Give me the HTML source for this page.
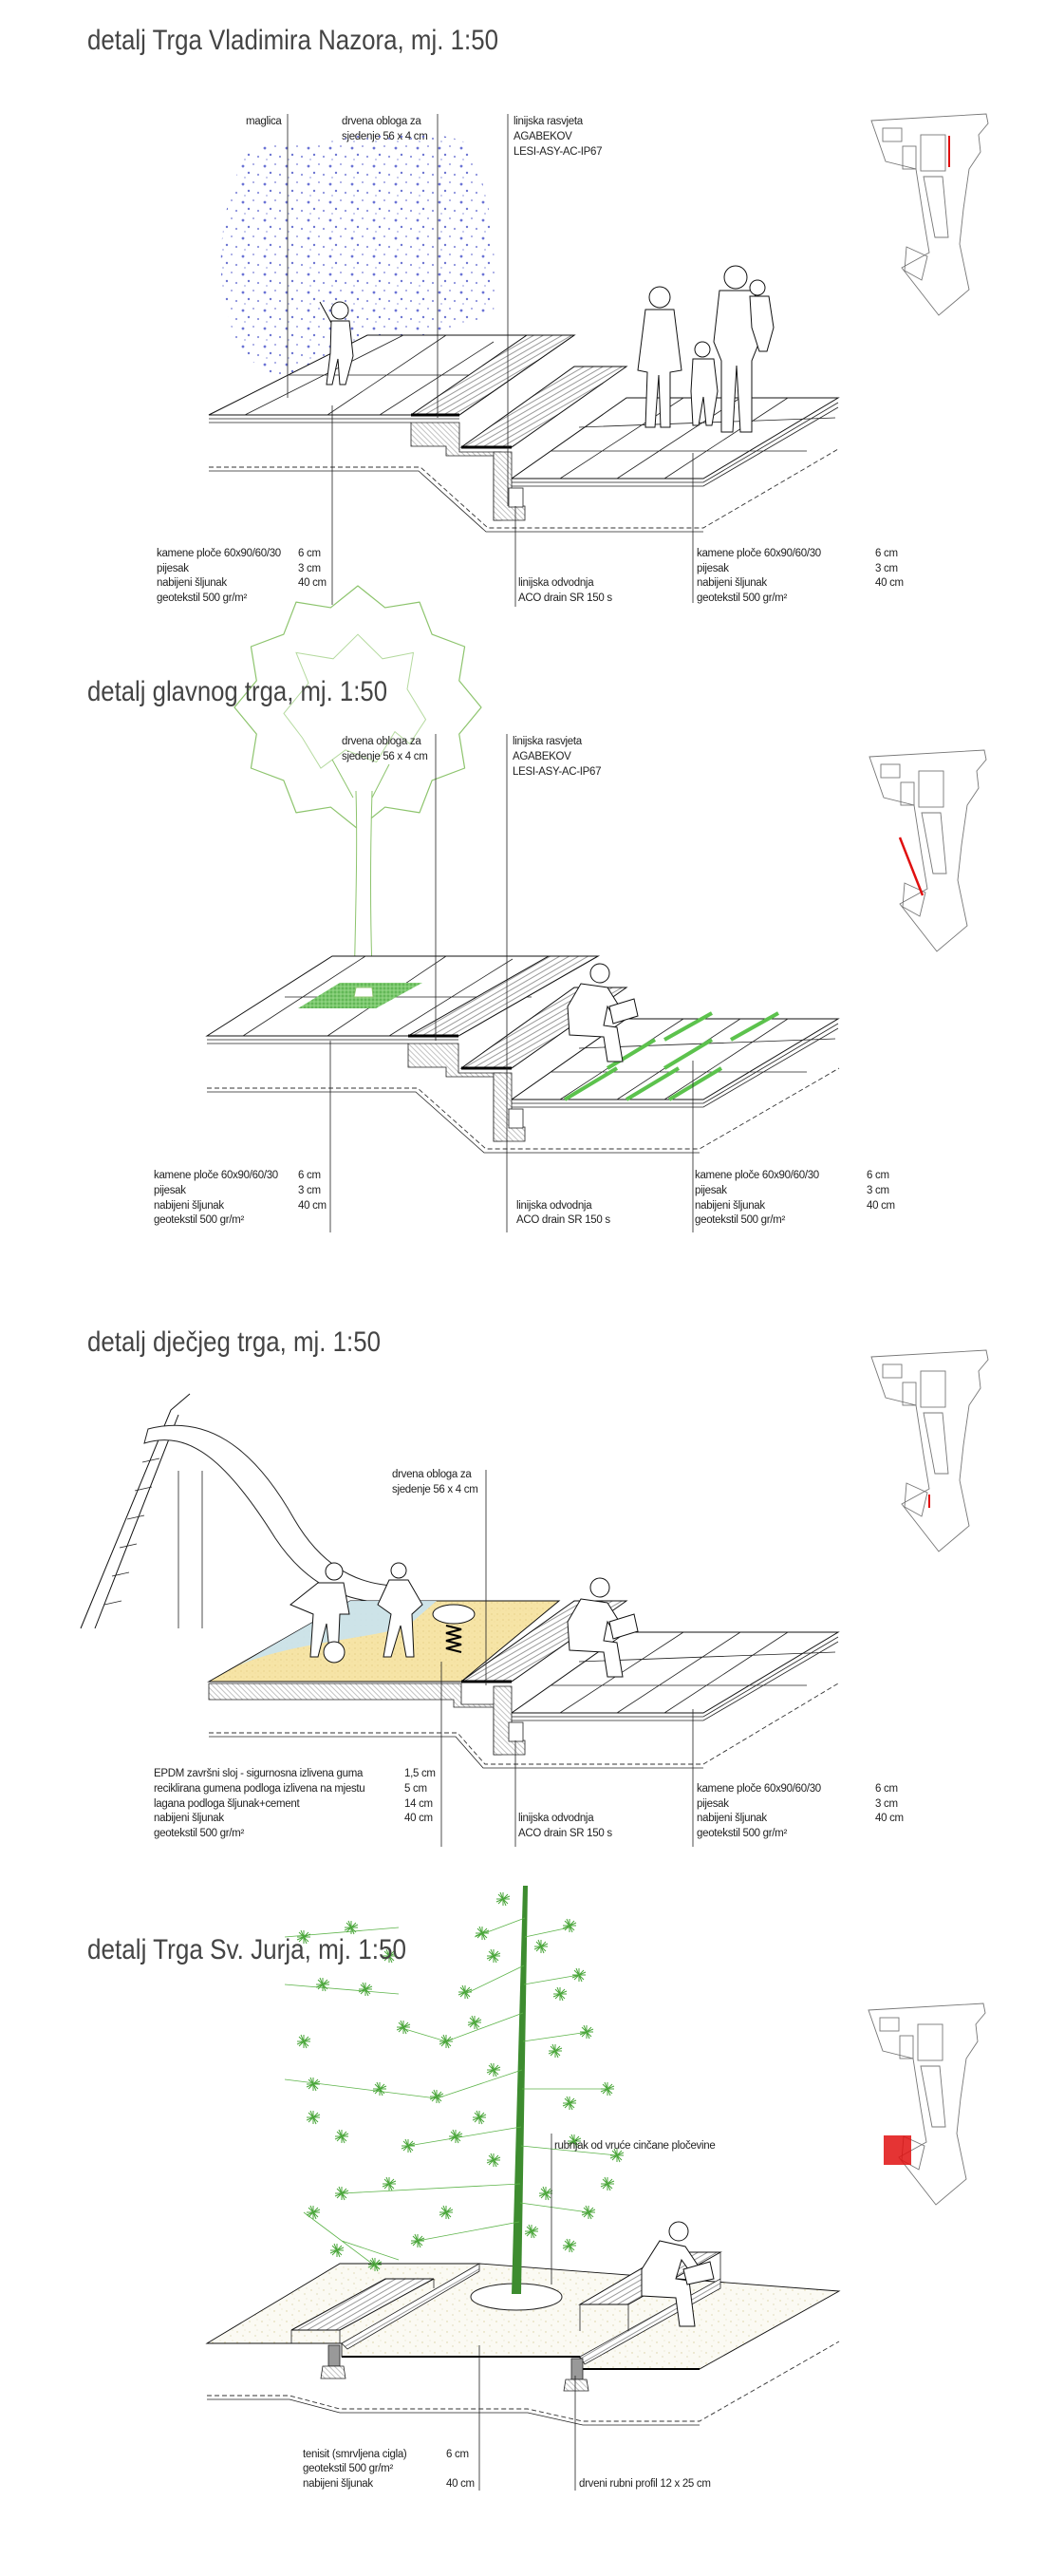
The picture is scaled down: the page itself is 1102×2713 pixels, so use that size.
<!DOCTYPE html>
<html><head><meta charset="utf-8"><style>
html,body{margin:0;padding:0;background:#fff;}
svg{display:block;}
.t{font-family:"Liberation Sans",sans-serif;font-size:30px;fill:#444;}
.l{font-family:"Liberation Sans",sans-serif;font-size:11.5px;fill:#222;letter-spacing:-0.3px;}
.ln{stroke:#222;stroke-width:0.8;fill:none;}
.k{stroke:#111;stroke-width:1;fill:#fff;}
.d{stroke:#333;stroke-width:0.9;fill:none;stroke-dasharray:5 3;}
.m{stroke:#777;stroke-width:0.9;fill:none;}
.g{stroke:#3d9a2f;stroke-width:0.9;fill:none;}
</style></head><body>
<svg width="1102" height="2713" viewBox="0 0 1102 2713" xmlns="http://www.w3.org/2000/svg">
<defs>
<pattern id="wood" width="5" height="5" patternUnits="userSpaceOnUse" patternTransform="rotate(-30)"><rect width="5" height="5" fill="#fff"/><line x1="0" y1="2" x2="5" y2="2" stroke="#555" stroke-width="0.6"/></pattern>
<pattern id="conc" width="4" height="4" patternUnits="userSpaceOnUse" patternTransform="rotate(45)"><rect width="4" height="4" fill="#fff"/><line x1="0" y1="1" x2="4" y2="1" stroke="#999" stroke-width="0.6"/></pattern>
<pattern id="mist" width="23" height="19" patternUnits="userSpaceOnUse"><circle cx="3" cy="4" r="1.4" fill="#5a63d0"/><circle cx="14" cy="2" r="1" fill="#8a90dc"/><circle cx="9" cy="11" r="1.2" fill="#5d66cc"/><circle cx="19" cy="13" r="1.1" fill="#7d84d8"/><circle cx="5" cy="16" r="0.9" fill="#9aa0e0"/></pattern>
<pattern id="grav" width="13" height="11" patternUnits="userSpaceOnUse"><rect width="13" height="11" fill="#fbfaf3"/><circle cx="3" cy="3" r="0.7" fill="#d8cfa0"/><circle cx="9" cy="7" r="0.6" fill="#cfc695"/><circle cx="11" cy="1" r="0.5" fill="#ddd5b0"/></pattern>
<pattern id="sand" width="6" height="6" patternUnits="userSpaceOnUse"><rect width="6" height="6" fill="#f6e4a6"/><circle cx="2" cy="2" r="0.6" fill="#e0c77a"/><circle cx="5" cy="4" r="0.5" fill="#ecd690"/></pattern>
<pattern id="grn" width="4" height="4" patternUnits="userSpaceOnUse"><rect width="4" height="4" fill="#7cc96e"/><circle cx="1" cy="1" r="0.7" fill="#3d9a35"/><circle cx="3" cy="3" r="0.6" fill="#b5e3a9"/></pattern>
<g id="star"><path d="M-7,0 L7,0 M0,-7 L0,7 M-5,-5 L5,5 M-5,5 L5,-5 M-3,-7 L3,7 M-7,3 L7,-3" stroke="#4aa63a" stroke-width="1"/></g>
<g id="map">
<path class="m" d="M3,7 L124,0 L126,10 L116,22 L118,40 L106,58 L100,100 L96,137 L106,185 L74,212 L35,162 L64,146 L58,110 L50,58 L18,50 Z"/>
<rect class="m" x="15" y="15" width="20" height="14"/>
<rect class="m" x="55" y="22" width="26" height="38"/>
<rect class="m" x="36" y="34" width="14" height="24"/>
<path class="m" d="M58,66 L78,66 L84,130 L70,130 Z"/>
<path class="m" d="M40,140 L62,150 L56,175 L38,165 Z"/>
</g>
<g id="lower">
<polygon points="486,471 539,471 660,386 605,386" fill="url(#wood)" stroke="#111"/>
<line x1="486" y1="471" x2="539" y2="471" stroke="#000" stroke-width="3"/>
<polygon points="539,504 741,504 883,419 660,419" class="k"/>
<path class="ln" d="M590,504 L720,419 M650,504 L780,419 M700,504 L830,419 M580,475 L850,475 M610,450 L880,440"/>
<path class="ln" d="M539,508 L741,508 L883,424 M539,512 L741,512 L883,429"/>
<path d="M528,476 L539,476 L539,533 L553,533 L553,548 L520,548 L520,476 Z" fill="url(#conc)" stroke="#222" stroke-width="0.8"/>
<rect x="536" y="514" width="15" height="20" fill="#fff" stroke="#222" stroke-width="0.8"/>
</g>
</defs>

<!-- ============ SECTION 1 ============ -->
<text class="t" x="92" y="52" textLength="433" lengthAdjust="spacingAndGlyphs">detalj Trga Vladimira Nazora, mj. 1:50</text>
<text class="l" x="259" y="131">maglica</text>
<text class="l" x="360" y="131">drvena obloga za</text>
<text class="l" x="360" y="147">sjedenje  56 x 4 cm</text>
<text class="l" x="541" y="131">linijska rasvjeta</text>
<text class="l" x="541" y="147">AGABEKOV</text>
<text class="l" x="541" y="163">LESI-ASY-AC-IP67</text>
<path d="M260,160 C230,220 222,300 250,360 C270,400 320,405 350,398 L520,330 C525,260 515,190 490,150 C460,135 380,140 330,150 C300,150 275,150 260,160 Z" fill="url(#mist)" opacity="0.9"/>
<polygon points="220,437 387,353 605,353 484,437" class="k"/>
<path class="ln" d="M258,437 L425,353 M345,437 L470,353 M303,395 L545,395 M400,437 L520,360"/>
<polygon points="433,437 484,437 605,353 555,353" fill="url(#wood)" stroke="#111"/>
<line x1="433" y1="437" x2="484" y2="437" stroke="#000" stroke-width="3"/>
<path class="ln" d="M220,441 L484,441 M220,445 L433,445"/>
<path d="M433,445 L484,445 L484,476 L528,476 L528,548 L520,548 L520,480 L470,480 L470,470 L433,470 Z" fill="url(#conc)" stroke="#222" stroke-width="0.8"/>
<use href="#lower"/>
<path class="d" d="M220,492 L443,492 L514,556 L741,556 L883,473"/>
<path class="ln" d="M220,496 L441,496 L512,560 L741,560"/>
<g class="k" stroke-width="0.9">
<circle cx="358" cy="327" r="9"/><path d="M349,338 L368,338 L372,375 L364,405 L358,405 L356,378 L350,405 L344,405 L348,372 Z M349,340 L337,318"/>
<circle cx="695" cy="313" r="11"/><path d="M680,326 L710,326 L718,390 L706,392 L706,450 L696,450 L694,395 L690,450 L680,450 L682,392 L672,390 Z"/>
<circle cx="740" cy="368" r="8"/><path d="M730,378 L752,378 L756,412 L750,448 L744,448 L741,418 L736,448 L730,448 L728,412 Z"/>
<circle cx="775" cy="292" r="12"/><path d="M758,306 L795,306 L800,360 L792,380 L792,455 L780,455 L776,385 L772,455 L760,455 L760,380 L752,360 Z"/>
<circle cx="798" cy="303" r="8"/><path d="M790,312 L810,312 L815,345 L808,370 L800,370 L792,345 Z"/>
</g>
<line class="ln" x1="303" y1="120" x2="303" y2="419"/>
<line class="ln" x1="461" y1="120" x2="461" y2="440"/>
<line class="ln" x1="535" y1="120" x2="535" y2="533"/>
<line class="ln" x1="543" y1="533" x2="543" y2="639"/>
<line class="ln" x1="350" y1="427" x2="350" y2="637"/>
<line class="ln" x1="730" y1="477" x2="730" y2="635"/>
<g class="l">
<text x="165" y="586">kamene ploče 60x90/60/30</text><text x="314" y="586">6 cm</text>
<text x="165" y="602">pijesak</text><text x="314" y="602">3 cm</text>
<text x="165" y="617">nabijeni šljunak</text><text x="314" y="617">40 cm</text>
<text x="165" y="633">geotekstil 500 gr/m²</text>
<text x="546" y="617">linijska odvodnja</text><text x="546" y="633">ACO drain SR 150 s</text>
<text x="734" y="586">kamene ploče 60x90/60/30</text><text x="922" y="586">6 cm</text>
<text x="734" y="602">pijesak</text><text x="922" y="602">3 cm</text>
<text x="734" y="617">nabijeni šljunak</text><text x="922" y="617">40 cm</text>
<text x="734" y="633">geotekstil 500 gr/m²</text>
</g>
<use href="#map" x="915" y="120"/>
<line x1="1000" y1="143" x2="1000" y2="176" stroke="#e01010" stroke-width="2"/>

<!-- ============ SECTION 2 ============ -->
<g transform="translate(377,745) scale(130,128)">
<polygon points="1,0 .821,.22 .866,.5 .601,.601 .5,.866 .22,.821 0,1 -.22,.821 -.5,.866 -.601,.601 -.866,.5 -.821,.22 -1,0 -.821,-.22 -.866,-.5 -.601,-.601 -.5,-.866 -.22,-.821 0,-1 .22,-.821 .5,-.866 .601,-.601 .866,-.5 .821,-.22" fill="none" stroke="#8dc46d" stroke-width="1.2" vector-effect="non-scaling-stroke" stroke-linejoin="round"/>
<polygon points=".55,.1 .42,.3 .3,.2 .15,.45 -.1,.35 -.3,.5 -.45,.25 -.6,.05 -.4,-.2 -.5,-.45 -.2,-.4 0,-.6 .2,-.4 .45,-.45 .4,-.15" fill="none" stroke="#b5da9f" stroke-width="1" vector-effect="non-scaling-stroke"/>
</g>
<path d="M372,840 L350,800 M392,840 L410,805" stroke="#8dc46d" stroke-width="1"/>
<path d="M375,833 C377,900 374,980 373,1048 L393,1048 C390,980 390,900 392,833" fill="#fff" stroke="#8dc46d" stroke-width="1"/>
<text class="t" x="92" y="738" textLength="316" lengthAdjust="spacingAndGlyphs">detalj glavnog trga, mj. 1:50</text>
<polygon points="218,1091 350,1007 630,1007 483,1091" class="k"/>
<path class="ln" d="M256,1091 L385,1007 M345,1091 L470,1007 M300,1050 L560,1050 M410,1091 L540,1010"/>
<polygon points="314,1062 358,1035 445,1035 396,1062" fill="url(#grn)"/>
<path d="M375,1040 L373,1050 L393,1050 L392,1040 Z" fill="#fff" stroke="#8dc46d"/>
<polygon points="430,1091 483,1091 630,1007 578,1007" fill="url(#wood)" stroke="#111"/>
<line x1="430" y1="1091" x2="483" y2="1091" stroke="#000" stroke-width="3"/>
<path class="ln" d="M218,1095 L483,1095 M218,1099 L430,1099"/>
<path d="M430,1099 L483,1099 L483,1130 L528,1130 L528,1202 L520,1202 L520,1134 L470,1134 L470,1124 L430,1124 Z" fill="url(#conc)" stroke="#222" stroke-width="0.8"/>
<use href="#lower" y="654"/>
<path d="M595,1158 L650,1125 M660,1158 L715,1125 M705,1158 L760,1125 M640,1125 L690,1095 M700,1125 L750,1095 M700,1095 L750,1067 M770,1095 L820,1067" stroke="#5cc24d" stroke-width="4"/>
<path class="d" d="M218,1146 L440,1146 L512,1210 L737,1210 L884,1125"/>
<path class="ln" d="M218,1150 L438,1150 L510,1214 L737,1214"/>
<g class="k" stroke-width="0.9"><circle cx="632" cy="1025" r="10"/><path d="M612,1036 L640,1040 L660,1072 L650,1076 L640,1060 L636,1080 L650,1082 L656,1118 L640,1118 L636,1092 L600,1090 L598,1060 Z"/><path d="M642,1060 L668,1052 L672,1070 L646,1078 Z"/></g>
<line class="ln" x1="459" y1="773" x2="459" y2="1096"/>
<line class="ln" x1="534" y1="773" x2="534" y2="1298"/>
<line class="ln" x1="348" y1="1096" x2="348" y2="1298"/>
<line class="ln" x1="730" y1="1117" x2="730" y2="1298"/>
<g class="l">
<text x="360" y="784">drvena obloga za</text><text x="360" y="800">sjedenje  56 x 4 cm</text>
<text x="540" y="784">linijska rasvjeta</text><text x="540" y="800">AGABEKOV</text><text x="540" y="816">LESI-ASY-AC-IP67</text>
<text x="162" y="1241">kamene ploče 60x90/60/30</text><text x="314" y="1241">6 cm</text>
<text x="162" y="1257">pijesak</text><text x="314" y="1257">3 cm</text>
<text x="162" y="1273">nabijeni šljunak</text><text x="314" y="1273">40 cm</text>
<text x="162" y="1288">geotekstil 500 gr/m²</text>
<text x="544" y="1273">linijska odvodnja</text><text x="544" y="1288">ACO drain SR 150 s</text>
<text x="732" y="1241">kamene ploče 60x90/60/30</text><text x="913" y="1241">6 cm</text>
<text x="732" y="1257">pijesak</text><text x="913" y="1257">3 cm</text>
<text x="732" y="1273">nabijeni šljunak</text><text x="913" y="1273">40 cm</text>
<text x="732" y="1288">geotekstil 500 gr/m²</text>
</g>
<use href="#map" x="913" y="790"/>
<line x1="948" y1="882" x2="972" y2="943" stroke="#e01010" stroke-width="2.5"/>

<!-- ============ SECTION 3 ============ -->
<text class="t" x="92" y="1423" textLength="309" lengthAdjust="spacingAndGlyphs">detalj dječjeg trga, mj. 1:50</text>
<path class="k" fill="none" d="M85,1715 L180,1485 L200,1468 M100,1715 L188,1490"/>
<path class="ln" d="M110,1690 L128,1686 M118,1660 L136,1656 M126,1630 L144,1626 M134,1600 L152,1596 M142,1570 L160,1566 M150,1540 L168,1536 M158,1515 L176,1511"/>
<path d="M152,1520 C200,1505 240,1540 290,1620 C330,1680 380,1690 425,1688 L430,1670 C390,1672 345,1660 310,1600 C265,1520 215,1490 156,1505 Z" fill="#fff" stroke="#222" stroke-width="1"/>
<line class="ln" x1="188" y1="1549" x2="188" y2="1715"/><line class="ln" x1="213" y1="1549" x2="213" y2="1715"/>
<polygon points="220,1771 369,1686 589,1686 486,1771" fill="url(#sand)" stroke="#111"/>
<path d="M250,1755 C300,1730 400,1725 430,1712 L460,1686 L369,1686 L280,1737 Z" fill="#c9e2ef" opacity="0.9"/>
<path d="M220,1773 L486,1773 L486,1795 L528,1795 L528,1848 L520,1848 L520,1798 L478,1798 L478,1790 L220,1790 Z" fill="url(#conc)" stroke="#222" stroke-width="0.8"/>
<g transform="translate(0,1300)">
<polygon points="486,471 539,471 660,386 605,386" fill="url(#wood)" stroke="#111"/>
<line x1="486" y1="471" x2="539" y2="471" stroke="#000" stroke-width="3"/>
<polygon points="539,504 741,504 883,419 660,419" class="k"/>
<path class="ln" d="M590,504 L720,419 M650,504 L780,419 M700,504 L830,419 M580,475 L850,475 M610,450 L880,440"/>
<path class="ln" d="M539,508 L741,508 L883,424 M539,512 L741,512 L883,429"/>
<path d="M528,476 L539,476 L539,533 L553,533 L553,548 L520,548 L520,476 Z" fill="url(#conc)" stroke="#222" stroke-width="0.8"/>
<rect x="536" y="514" width="15" height="20" fill="#fff" stroke="#222" stroke-width="0.8"/>
</g>
<path class="d" d="M220,1825 L482,1825 L511,1858 L741,1858 L883,1773"/>
<path class="ln" d="M220,1829 L480,1829 L509,1862 L741,1862"/>
<g class="k" stroke-width="0.9">
<circle cx="352" cy="1655" r="9"/><path d="M335,1667 L362,1667 L368,1700 L358,1700 L356,1748 L348,1748 L344,1710 L335,1745 L327,1745 L330,1700 L306,1690 Z"/>
<circle cx="352" cy="1740" r="11"/>
<circle cx="420" cy="1654" r="8"/><path d="M410,1664 L430,1664 L445,1690 L434,1700 L436,1745 L428,1745 L422,1712 L412,1745 L404,1745 L412,1700 L398,1690 Z"/>
<ellipse cx="478" cy="1700" rx="22" ry="10"/>
<path d="M470,1712 l16,4 l-16,4 l16,4 l-16,4 l16,4 l-16,4 l16,4" fill="none" stroke="#000" stroke-width="2"/>
<circle cx="632" cy="1672" r="10"/><path d="M612,1684 L640,1688 L660,1720 L650,1724 L640,1708 L636,1728 L650,1730 L656,1766 L640,1766 L636,1740 L600,1738 L598,1708 Z"/><path d="M642,1708 L668,1700 L672,1718 L646,1726 Z"/>
</g>
<line class="ln" x1="512" y1="1548" x2="512" y2="1775"/>
<line class="ln" x1="465" y1="1750" x2="465" y2="1945"/>
<line class="ln" x1="543" y1="1833" x2="543" y2="1945"/>
<line class="ln" x1="730" y1="1800" x2="730" y2="1945"/>
<g class="l">
<text x="413" y="1556">drvena obloga za</text><text x="413" y="1572">sjedenje  56 x 4 cm</text>
<text x="162" y="1871">EPDM završni sloj - sigurnosna izlivena guma</text><text x="426" y="1871">1,5 cm</text>
<text x="162" y="1887">reciklirana gumena podloga izlivena na mjestu</text><text x="426" y="1887">5 cm</text>
<text x="162" y="1903">lagana podloga šljunak+cement</text><text x="426" y="1903">14 cm</text>
<text x="162" y="1918">nabijeni šljunak</text><text x="426" y="1918">40 cm</text>
<text x="162" y="1934">geotekstil 500 gr/m²</text>
<text x="546" y="1918">linijska odvodnja</text><text x="546" y="1934">ACO drain SR 150 s</text>
<text x="734" y="1887">kamene ploče 60x90/60/30</text><text x="922" y="1887">6 cm</text>
<text x="734" y="1903">pijesak</text><text x="922" y="1903">3 cm</text>
<text x="734" y="1918">nabijeni šljunak</text><text x="922" y="1918">40 cm</text>
<text x="734" y="1934">geotekstil 500 gr/m²</text>
</g>
<use href="#map" x="915" y="1422"/>
<line x1="979" y1="1574" x2="979" y2="1588" stroke="#e01010" stroke-width="2"/>

<!-- ============ SECTION 4 ============ -->
<polygon points="218,2468 358,2384 505,2384 884,2413 737,2495 611,2495 611,2482 360,2482 360,2468" fill="url(#grav)" stroke="#111" stroke-width="0.9"/>
<path d="M360,2482 L611,2482 M611,2495 L737,2495" stroke="#000" stroke-width="2"/>
<polygon points="360,2468 505,2384 505,2392 366,2474" fill="url(#wood)" stroke="#222" stroke-width="0.8"/>
<polygon points="307,2454 358,2454 457,2400 406,2400" fill="url(#wood)" stroke="#111"/>
<path class="ln" d="M307,2454 L307,2468 M358,2454 L358,2468 M457,2400 L457,2410"/>
<polygon points="611,2482 759,2400 759,2410 616,2490" fill="url(#wood)" stroke="#222" stroke-width="0.8"/>
<polygon points="611,2427 662,2427 759,2372 705,2372" fill="url(#wood)" stroke="#111"/>
<path class="ln" d="M611,2427 L611,2455 M662,2427 L662,2455 M759,2372 L759,2400"/>
<rect x="346" y="2470" width="12" height="22" fill="#999" stroke="#222" stroke-width="0.8"/>
<path d="M340,2492 L362,2492 L364,2505 L338,2505 Z" fill="url(#conc)" stroke="#222" stroke-width="0.8"/>
<rect x="602" y="2484" width="12" height="22" fill="#999" stroke="#222" stroke-width="0.8"/>
<path d="M596,2506 L618,2506 L620,2518 L594,2518 Z" fill="url(#conc)" stroke="#222" stroke-width="0.8"/>
<ellipse cx="544" cy="2419" rx="48" ry="14" fill="#fff" stroke="#222"/>
<path class="d" d="M218,2523 L305,2523 L358,2537 L556,2537 L614,2550 L737,2550 L884,2466"/>
<path class="ln" d="M218,2527 L305,2527 L358,2541 L556,2541 L614,2554 L737,2554"/>
<path d="M551,1986 L556,1986 L549,2416 L539,2416 Z" fill="#3d8c2f"/>
<g stroke="#5db44a" stroke-width="0.8" fill="none">
<path d="M553,2020 L500,2040 M553,2040 L600,2030 M552,2070 L490,2100 M552,2090 L610,2080 M551,2120 L470,2150 L420,2135 M551,2150 L620,2140 M550,2180 L460,2210 L300,2190 M550,2200 L640,2200 M549,2240 L430,2260 M549,2260 L650,2270 M548,2300 L360,2310 M548,2320 L620,2330 M547,2340 L440,2360 M300,2040 L420,2030 M300,2090 L420,2100 M320,2330 L400,2390 M360,2360 L420,2380"/>
</g>
<g>
<use href="#star" x="508" y="2036"/><use href="#star" x="600" y="2028"/><use href="#star" x="490" y="2098"/><use href="#star" x="610" y="2080"/><use href="#star" x="520" y="2060"/>
<use href="#star" x="470" y="2150"/><use href="#star" x="425" y="2135"/><use href="#star" x="618" y="2140"/><use href="#star" x="585" y="2160"/><use href="#star" x="500" y="2130"/>
<use href="#star" x="460" y="2208"/><use href="#star" x="400" y="2200"/><use href="#star" x="330" y="2195"/><use href="#star" x="640" y="2200"/><use href="#star" x="600" y="2215"/>
<use href="#star" x="430" y="2260"/><use href="#star" x="480" y="2250"/><use href="#star" x="650" y="2270"/><use href="#star" x="605" y="2255"/><use href="#star" x="520" y="2275"/>
<use href="#star" x="360" y="2310"/><use href="#star" x="410" y="2300"/><use href="#star" x="620" y="2330"/><use href="#star" x="575" y="2310"/><use href="#star" x="440" y="2360"/>
<use href="#star" x="320" y="2040"/><use href="#star" x="370" y="2030"/><use href="#star" x="410" y="2060"/><use href="#star" x="340" y="2090"/><use href="#star" x="385" y="2095"/>
<use href="#star" x="320" y="2150"/><use href="#star" x="330" y="2230"/><use href="#star" x="360" y="2250"/><use href="#star" x="330" y="2330"/><use href="#star" x="355" y="2370"/>
<use href="#star" x="395" y="2385"/><use href="#star" x="560" y="2350"/><use href="#star" x="600" y="2365"/><use href="#star" x="470" y="2330"/><use href="#star" x="520" y="2180"/>
<use href="#star" x="590" y="2100"/><use href="#star" x="530" y="2000"/><use href="#star" x="570" y="2050"/><use href="#star" x="640" y="2300"/><use href="#star" x="505" y="2230"/>
</g>
<text class="t" x="92" y="2063" textLength="336" lengthAdjust="spacingAndGlyphs">detalj Trga Sv. Jurja, mj. 1:50</text>
<g class="k" stroke-width="0.9"><circle cx="715" cy="2350" r="10"/><path d="M695,2360 L722,2366 L738,2390 L728,2394 L718,2380 L712,2400 L726,2402 L732,2450 L716,2450 L712,2420 L676,2418 L676,2390 Z"/><path d="M720,2390 L748,2382 L752,2400 L724,2406 Z"/></g>
<line class="ln" x1="581" y1="2247" x2="581" y2="2406"/>
<line class="ln" x1="505" y1="2470" x2="505" y2="2623"/>
<line class="ln" x1="606" y1="2502" x2="606" y2="2623"/>
<g class="l">
<text x="584" y="2263">rubnjak od vruće cinčane pločevine</text>
<text x="319" y="2588">tenisit (smrvljena cigla)</text><text x="470" y="2588">6 cm</text>
<text x="319" y="2603">geotekstil 500 gr/m²</text>
<text x="319" y="2619">nabijeni šljunak</text><text x="470" y="2619">40 cm</text>
<text x="610" y="2619">drveni rubni profil 12 x 25 cm</text>
</g>
<use href="#map" x="912" y="2110"/>
<rect x="931" y="2249" width="29" height="31" fill="#e01010" opacity="0.85"/>
</svg>
</body></html>
